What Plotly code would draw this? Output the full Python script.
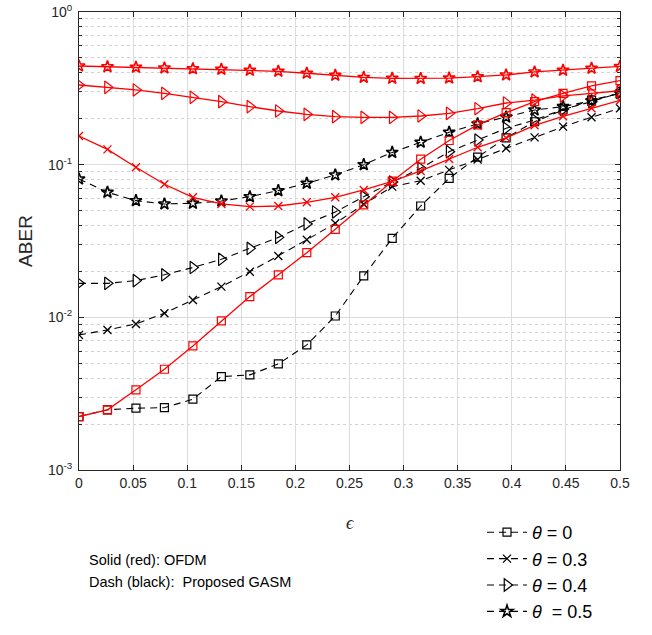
import plotly.graph_objects as go

eps = [k * 0.5 / 19 for k in range(20)]

gasm_t0 = [0.00224, 0.00248, 0.00254, 0.00256, 0.00291, 0.00409, 0.00420, 0.00495, 0.0066, 0.0102,
           0.0187, 0.0329, 0.0536, 0.0814, 0.112, 0.150, 0.191, 0.228, 0.265, 0.2935]
gasm_t03 = [0.00767, 0.00827, 0.00905, 0.01063, 0.0130, 0.0159, 0.0199, 0.0252, 0.0322, 0.0413,
            0.0550, 0.0718, 0.0785, 0.0925, 0.108, 0.128, 0.151, 0.1774, 0.2044, 0.234]
gasm_t04 = [0.0167, 0.0167, 0.0174, 0.0190, 0.0212, 0.0240, 0.0283, 0.0334, 0.0409, 0.049,
            0.0617, 0.077, 0.0948, 0.1216, 0.145, 0.173, 0.196, 0.2306, 0.2586, 0.296]
gasm_t05 = [0.0806, 0.0659, 0.0581, 0.0553, 0.0558, 0.0578, 0.0617, 0.0676, 0.0755, 0.0856,
            0.100, 0.1203, 0.1403, 0.163, 0.185, 0.205, 0.228, 0.240, 0.2625, 0.2935]

ofdm_t0 = [0.00224, 0.00248, 0.00335, 0.00457, 0.0065, 0.00947, 0.01367, 0.0190, 0.0265, 0.0377,
           0.0545, 0.0780, 0.1086, 0.144, 0.182, 0.219, 0.2586, 0.2935, 0.3277, 0.355]
ofdm_t03 = [0.154, 0.126, 0.0961, 0.0744, 0.0611, 0.0553, 0.0531, 0.0536, 0.0567, 0.0611,
            0.0683, 0.0778, 0.091, 0.109, 0.130, 0.150, 0.181, 0.2074, 0.234, 0.2635]
ofdm_t04 = [0.3325, 0.321, 0.3085, 0.2934, 0.276, 0.2587, 0.240, 0.2247, 0.2137, 0.2063,
            0.2042, 0.204, 0.2084, 0.217, 0.2325, 0.2535, 0.265, 0.282, 0.2935, 0.305]
ofdm_t05 = [0.443, 0.438, 0.434, 0.430, 0.425, 0.421, 0.415, 0.409, 0.397, 0.385,
            0.373, 0.368, 0.367, 0.369, 0.377, 0.387, 0.405, 0.415, 0.428, 0.440]

legend_names = ["<i>θ</i> = 0", "<i>θ</i> = 0.3", "<i>θ</i> = 0.4", "<i>θ</i>  = 0.5"]
x_ticks = [0, 0.05, 0.1, 0.15, 0.2, 0.25, 0.3, 0.35, 0.4, 0.45, 0.5]
x_ticktext = ["0", "0.05", "0.1", "0.15", "0.2", "0.25", "0.3", "0.35", "0.4", "0.45", "0.5"]
y_ticks = [1e-3, 1e-2, 1e-1, 1e0]
y_ticktext = ["10<sup>-3</sup>", "10<sup>-2</sup>", "10<sup>-1</sup>", "10<sup>0</sup>"]

markers = [
    dict(symbol="square-open", size=8, line=dict(width=1.2)),
    dict(symbol="x-thin-open", size=8, line=dict(width=1.3)),
    dict(symbol="triangle-right-open", size=11, line=dict(width=1.2)),
    dict(symbol="star-open", size=9, line=dict(width=1.6)),
]

fig = go.Figure()

gasm = [gasm_t0, gasm_t03, gasm_t04, gasm_t05]
ofdm = [ofdm_t0, ofdm_t03, ofdm_t04, ofdm_t05]

for i, ys in enumerate(gasm):
    m = dict(markers[i])
    m["color"] = "black"
    m["line"] = dict(m["line"], color="black")
    fig.add_trace(go.Scatter(x=eps, y=ys, mode="lines+markers", name=legend_names[i],
                             line=dict(color="black", width=1.1, dash="7px,5px"),
                             marker=m, showlegend=True))

for i, ys in enumerate(ofdm):
    m = dict(markers[i])
    m["color"] = "#ff0000"
    m["line"] = dict(m["line"], color="#ff0000")
    fig.add_trace(go.Scatter(x=eps, y=ys, mode="lines+markers", name="OFDM " + legend_names[i],
                             line=dict(color="#ff0000", width=1.3),
                             marker=m, showlegend=False))

axis_common = dict(
    showline=True, linecolor="#262626", linewidth=1, mirror="ticks",
    ticks="inside", ticklen=5, tickcolor="#262626",
    showgrid=True, gridcolor="#dcdcdc", gridwidth=1,
    zeroline=False, automargin=False,
    tickfont=dict(family="Liberation Sans, Arial, sans-serif", size=14, color="#262626"),
)

fig.update_xaxes(range=[0, 0.5], tickvals=x_ticks, ticktext=x_ticktext, **axis_common)
fig.update_yaxes(type="log", range=[-3, 0], tickvals=y_ticks, ticktext=y_ticktext,
                 ticklabelstandoff=3,
                 minor=dict(ticks="inside", ticklen=3, tickcolor="#262626", showgrid=True,
                            gridcolor="#d2d2d2", griddash="dot", gridwidth=1,
                            dtick="D1"),
                 title=dict(text="ABER", font=dict(family="Liberation Sans, Arial, sans-serif",
                                                   size=19, color="#262626"), standoff=10),
                 **axis_common)

fig.add_annotation(text="<i>ϵ</i>", x=0.5, y=-0.115, xref="paper", yref="paper",
                   showarrow=False, xanchor="center", yanchor="middle",
                   font=dict(family="Liberation Serif, serif", size=18, color="#262626"))
fig.add_annotation(text="Solid (red): OFDM", x=0.014, y=-0.196, xref="paper", yref="paper",
                   showarrow=False, xanchor="left", yanchor="middle",
                   font=dict(family="Liberation Sans, Arial, sans-serif", size=14.5, color="black"))
fig.add_annotation(text="Dash (black):  Proposed GASM", x=0.014, y=-0.244, xref="paper",
                   yref="paper", showarrow=False, xanchor="left", yanchor="middle",
                   font=dict(family="Liberation Sans, Arial, sans-serif", size=14.5, color="black"))

fig.update_layout(
    width=652, height=635,
    margin=dict(l=79, r=32, t=12, b=165, autoexpand=False),
    paper_bgcolor="white", plot_bgcolor="white",
    showlegend=True,
    legend=dict(x=482 / 652, y=1 - 514 / 635, xref="container", yref="container",
                xanchor="left", yanchor="top",
                bgcolor="rgba(0,0,0,0)",
                font=dict(family="Liberation Sans, Arial, sans-serif", size=18, color="black"),
                tracegroupgap=0, itemwidth=40),
)

fig.write_html("out.html", config={"displayModeBar": False},
               post_script="document.body.style.margin='0';document.body.style.overflow='hidden';")
